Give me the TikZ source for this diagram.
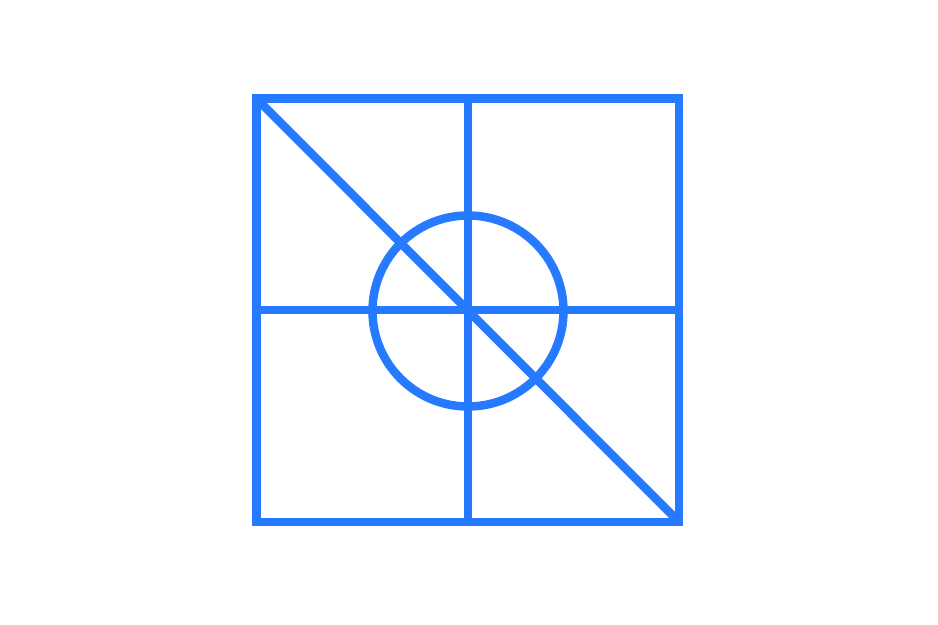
\documentclass[tikz,border=0pt]{standalone}
\usepackage{tikz}
\definecolor{gridblue}{RGB}{38,122,255}

\begin{document}
\begin{tikzpicture}[line join=miter,x=0.02cm,y=-0.02cm]
\tikzset{bluestroke/.style={draw=gridblue,line width=0.17cm}}
\useasboundingbox (0,0) rectangle (938,625);
\draw[bluestroke] (256.5,98.5) rectangle (679,522);
\draw[bluestroke] (468,98.5)--(468,522);
\draw[bluestroke] (256.5,310)--(679,310);
\draw[bluestroke] (256.5,98.5)--(679,522);
\draw[bluestroke] (468,311) circle (95.5);
\end{tikzpicture}
\end{document}
